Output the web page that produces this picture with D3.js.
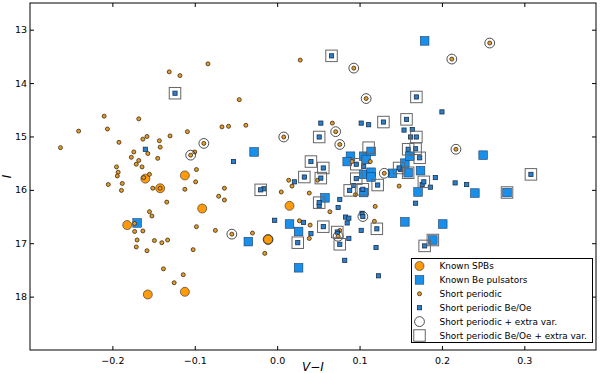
<!DOCTYPE html>
<html><head><meta charset="utf-8">
<script src="https://cdn.jsdelivr.net/npm/d3@7"></script>
<style>
html,body{margin:0;padding:0;background:#fff;}
svg{display:block;}
text{font-family:"DejaVu Sans",sans-serif;}
</style></head>
<body>
<script>
// ---- data ----
const xTicks = [-0.2, -0.1, 0.0, 0.1, 0.2, 0.3];
const xTickLabels = ["\u22120.2", "\u22120.1", "0.0", "0.1", "0.2", "0.3"];
const yTicks = [13, 14, 15, 16, 17, 18];
const yTickLabels = ["13", "14", "15", "16", "17", "18"];

// Known SPBs
const spbX = [-0.160,-0.112,-0.142,-0.091,-0.182,-0.157,-0.112,0.015,-0.011];
const spbI = [15.79,15.73,15.97,16.35,16.66,17.96,17.91,16.30,16.93];

// Known Be pulsators
const beX = [0.179,-0.028,-0.170,0.089,0.085,0.105,0.114,0.108,0.105,0.114,0.114,0.105,0.140,0.058,0.015,0.026,-0.035,0.026,0.155,0.155,0.161,0.159,0.174,0.171,0.250,0.240,0.279,0.201,0.189];
const beI = [13.21,15.29,16.62,15.37,15.47,15.37,15.28,15.43,15.71,15.67,15.76,16.05,15.69,16.15,16.64,16.78,16.97,17.46,16.60,15.50,15.37,15.68,15.64,16.04,15.35,16.06,16.05,16.64,16.94];

// Short periodic
const spX = [-0.084,-0.131,-0.118,-0.210,-0.168,-0.241,-0.206,-0.067,-0.059,-0.109,-0.130,-0.158,-0.163,-0.143,-0.192,-0.263,-0.142,-0.174,-0.157,-0.100,-0.177,-0.145,-0.168,-0.171,-0.098,-0.195,-0.164,-0.193,-0.194,-0.155,-0.162,-0.099,-0.205,-0.188,-0.151,-0.142,-0.112,-0.064,-0.189,-0.071,-0.064,-0.134,-0.155,-0.152,-0.173,-0.163,-0.173,-0.098,-0.075,-0.170,-0.149,-0.140,-0.133,-0.171,-0.158,-0.102,-0.138,-0.114,-0.125,
  0.028,-0.046,-0.038,0.067,0.091,0.113,0.049,0.014,0.018,0.005,0.039,0.095,0.148,0.064,0.119,0.027,0.040,0.118,0.076,-0.030,0.039,-0.015,
  -0.089,-0.105,0.093,0.108,0.071,0.008,0.076,0.130,-0.055,0.074,0.258,0.212,0.217];
const spI = [13.64,13.79,13.86,14.62,14.67,14.90,14.86,14.82,14.81,14.91,14.99,15.00,15.05,15.08,15.11,15.21,15.20,15.29,15.32,15.29,15.39,15.41,15.45,15.52,15.62,15.57,15.57,15.67,15.74,15.71,15.77,15.85,15.90,15.88,15.97,15.97,15.99,15.97,16.01,16.12,16.19,16.23,16.41,16.49,16.63,16.77,16.78,16.69,16.76,16.94,16.95,16.99,16.94,17.07,17.14,17.12,17.48,17.59,17.74,
  13.57,14.31,14.79,14.75,15.47,15.47,15.82,15.82,15.93,16.04,16.06,16.09,15.93,16.41,16.31,16.58,16.66,16.59,16.76,16.81,16.91,17.19,
  15.13,15.35,13.72,14.29,14.91,15.01,15.15,15.69,16.83,16.87,13.25,13.55,15.24];

// Short periodic Be/Oe
const sbeX = [-0.160,0.053,0.102,0.111,-0.053,0.105,0.021,-0.016,0.093,0.051,0.076,0.074,-0.003,0.032,0.083,0.087,0.085,0.103,0.104,0.102,0.041,0.087,0.120,0.168,0.082,0.123,0.200,0.154,0.164,0.162,0.150,0.192,0.176,0.186,0.216,0.230,
  -0.124,0.066,0.129,0.051,0.041,0.056,0.096,0.148,0.096,0.033,0.053,-0.020,0.088,0.104,0.122,0.051,0.056,0.121,0.073,0.076,0.025,0.169,0.157,0.169,0.159,0.168,0.173,0.178,0.179,0.308];
const sbeI = [15.24,14.75,14.75,14.78,15.47,15.56,15.85,15.98,15.92,16.30,16.18,16.33,16.57,16.61,16.51,16.53,16.62,16.44,16.50,16.76,16.82,16.91,17.08,16.25,17.32,17.61,14.54,14.88,14.87,15.01,15.62,15.77,15.90,15.95,15.87,15.90,
  14.19,13.49,14.73,15.01,15.47,15.59,15.52,15.59,15.79,15.76,15.78,16.00,16.01,15.99,15.91,16.24,16.69,16.73,16.79,17.02,16.99,14.26,14.68,15.01,15.24,15.23,15.40,15.85,17.05,15.71];

// Short periodic + extra var
const spExX = [-0.089,-0.105,0.093,0.108,0.071,0.008,0.076,0.130,-0.055,0.074,0.258,0.212,0.217,0.104,-0.011];
const spExI = [15.13,15.35,13.72,14.29,14.91,15.01,15.15,15.69,16.83,16.87,13.25,13.55,15.24,16.50,16.93];

// Short periodic Be/Oe + extra var
const sbeExX = [-0.124,0.066,0.129,0.051,0.041,0.056,0.096,0.148,0.096,0.033,0.053,-0.020,0.088,0.104,0.122,0.051,0.056,0.121,0.073,0.076,0.025,0.169,0.157,0.169,0.159,0.168,0.173,0.178,0.179,0.308,0.159,0.279,0.189,0.111];
const sbeExI = [14.19,13.49,14.73,15.01,15.47,15.59,15.52,15.59,15.79,15.76,15.78,16.00,16.01,15.99,15.91,16.24,16.69,16.73,16.79,17.02,16.99,14.26,14.68,15.01,15.24,15.23,15.40,15.85,17.05,15.71,15.68,16.05,16.94,15.21];

const legendLabels = ["Known SPBs","Known Be pulsators","Short periodic","Short periodic Be/Oe","Short periodic + extra var.","Short periodic Be/Oe + extra var."];

// ---- styles ----
const W = 600, H = 373;
const L = 30, R = 596, T = 3, B = 350;
const cBigOrange = "#FF9A0A", cSmallOrange = "#E59B2A";
const cBigBlue = "#1A8FEA", cSmallBlue = "#2A80CC";
const edge = "#2a2a2a";
const rBig = 4.5, sBig = 8.6, rSmall = 2, sSmall = 4.2, rOpen = 4.9, sOpen = 11.5;

const svg = d3.select("body").append("svg").attr("width", W).attr("height", H);
const x = d3.scaleLinear().domain([-0.3, 0.387]).range([L, R]);
const y = d3.scaleLinear().domain([12.5, 19]).range([T, B]);

const zip = (a, b) => a.map((v, i) => [v, b[i]]);
const g = svg.append("g");

function circles(data, r, fill, stroke, sw) {
  g.append("g").selectAll("circle").data(data).join("circle")
    .attr("cx", d => x(d[0])).attr("cy", d => y(d[1])).attr("r", r)
    .attr("fill", fill).attr("stroke", stroke).attr("stroke-width", sw);
}
function squares(data, s, fill, stroke, sw) {
  g.append("g").selectAll("rect").data(data).join("rect")
    .attr("x", d => x(d[0]) - s / 2).attr("y", d => y(d[1]) - s / 2)
    .attr("width", s).attr("height", s)
    .attr("fill", fill).attr("stroke", stroke).attr("stroke-width", sw);
}
circles(zip(spbX, spbI), rBig, cBigOrange, edge, 0.6);
squares(zip(beX, beI), sBig, cBigBlue, "#1d3d66", 0.6);
circles(zip(spX, spI), rSmall, cSmallOrange, "#3a2a10", 0.8);
squares(zip(sbeX, sbeI), sSmall, cSmallBlue, "#17304f", 0.8);
circles(zip(spExX, spExI), rOpen, "none", "#222", 0.8);
squares(zip(sbeExX, sbeExI), sOpen, "none", "#666", 1);

// ---- axes frame ----
svg.append("rect").attr("x", L).attr("y", T).attr("width", R - L).attr("height", B - T)
  .attr("fill", "none").attr("stroke", "#000").attr("stroke-width", 1);

const tl = 4;
const axB = svg.append("g").attr("transform", `translate(0,${B})`)
  .call(d3.axisBottom(x).tickValues(xTicks).tickFormat((d, i) => xTickLabels[i]).tickSizeInner(-tl).tickSizeOuter(0).tickPadding(7));
const axT = svg.append("g").attr("transform", `translate(0,${T})`)
  .call(d3.axisTop(x).tickValues(xTicks).tickFormat("").tickSizeInner(-tl).tickSizeOuter(0));
const axL = svg.append("g").attr("transform", `translate(${L},0)`)
  .call(d3.axisLeft(y).tickValues(yTicks).tickFormat((d, i) => yTickLabels[i]).tickSizeInner(-tl).tickSizeOuter(0).tickPadding(3));
const axR = svg.append("g").attr("transform", `translate(${R},0)`)
  .call(d3.axisRight(y).tickValues(yTicks).tickFormat("").tickSizeInner(-tl).tickSizeOuter(0));
[axB, axT, axL, axR].forEach(a => {
  a.select(".domain").remove();
  a.selectAll("line").attr("stroke", "#000");
  a.selectAll("text").attr("font-family", "DejaVu Sans").attr("font-size", 9.5).attr("fill", "#000");
});

svg.append("text").attr("x", (L + R) / 2).attr("y", 371).attr("text-anchor", "middle")
  .attr("font-family", "DejaVu Serif").attr("font-style", "italic").attr("font-size", 12).text("V\u2212I");
svg.append("text").attr("transform", `translate(11,${(T + B) / 2}) rotate(-90)`).attr("text-anchor", "middle")
  .attr("font-family", "DejaVu Serif").attr("font-style", "italic").attr("font-size", 12).text("I");

// ---- legend ----
const lg = svg.append("g");
lg.append("rect").attr("x", 411.5).attr("y", 258.5).attr("width", 181).attr("height", 84)
  .attr("fill", "#fff").attr("stroke", "#000").attr("stroke-width", 1);
const rowY = i => 266 + i * 13.9;
const mx = 419.5;
legendLabels.forEach((lab, i) => {
  const cy = rowY(i);
  if (i === 0) lg.append("circle").attr("cx", mx).attr("cy", cy).attr("r", rBig).attr("fill", cBigOrange).attr("stroke", edge).attr("stroke-width", 0.6);
  if (i === 1) lg.append("rect").attr("x", mx - sBig / 2).attr("y", cy - sBig / 2).attr("width", sBig).attr("height", sBig).attr("fill", cBigBlue).attr("stroke", "#1d3d66").attr("stroke-width", 0.6);
  if (i === 2) lg.append("circle").attr("cx", mx).attr("cy", cy).attr("r", rSmall).attr("fill", cSmallOrange).attr("stroke", "#3a2a10").attr("stroke-width", 0.8);
  if (i === 3) lg.append("rect").attr("x", mx - sSmall / 2).attr("y", cy - sSmall / 2).attr("width", sSmall).attr("height", sSmall).attr("fill", cSmallBlue).attr("stroke", "#17304f").attr("stroke-width", 0.8);
  if (i === 4) lg.append("circle").attr("cx", mx).attr("cy", cy).attr("r", rOpen).attr("fill", "none").attr("stroke", "#222").attr("stroke-width", 0.8);
  if (i === 5) lg.append("rect").attr("x", mx - sOpen / 2).attr("y", cy - sOpen / 2).attr("width", sOpen).attr("height", sOpen).attr("fill", "none").attr("stroke", "#666").attr("stroke-width", 1);
  lg.append("text").attr("x", 439.5).attr("y", cy + 3.2).attr("font-size", 8.9).attr("fill", "#000").text(lab);
});
</script>
</body></html>
